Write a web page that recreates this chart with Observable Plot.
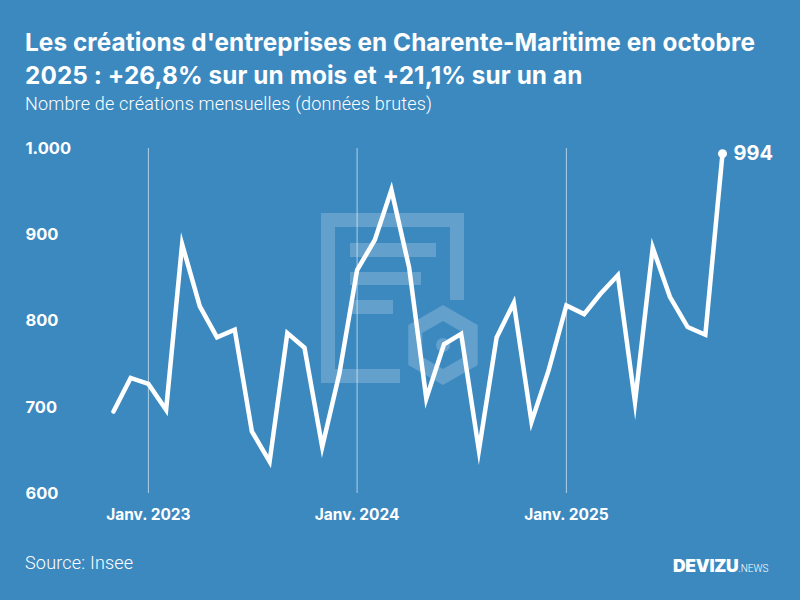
<!DOCTYPE html>
<html>
<head>
<meta charset="utf-8">
<script src="https://cdn.jsdelivr.net/npm/d3@7"></script>
<script src="https://cdn.jsdelivr.net/npm/@observablehq/plot@0.6"></script>
<style>
  html, body { margin: 0; padding: 0; }
  body { width: 800px; height: 600px; background: #3c89c0; overflow: hidden; font-family: Roboto, "Open Sans", sans-serif; }
  #wrap { position: relative; width: 800px; height: 600px; background: #3c89c0; }
  #title { position: absolute; left: 25px; top: 26px; width: 775px; white-space: nowrap; color: #fff; font-family: Inter, Roboto, sans-serif; font-weight: 700; font-size: 24.3px; line-height: 33px; letter-spacing: 0.1px; }
  #subtitle { position: absolute; left: 25px; top: 93px; color: #fff; font-weight: 300; font-size: 18px; letter-spacing: 0.2px; }
  #source { position: absolute; left: 25px; top: 552px; color: #fff; font-weight: 300; font-size: 18px; letter-spacing: 0.2px; }
  #logo { position: absolute; left: 673px; top: 555px; color: #fff; font-family: Inter, Roboto, sans-serif; font-weight: 900; font-size: 17.5px; letter-spacing: -0.3px; }
  #logo span { font-family: Roboto, sans-serif; font-weight: 300; font-size: 10px; letter-spacing: 0; }
  #wm { position: absolute; left: 0; top: 0; }
  #chart { position: absolute; left: 0; top: 130px; }
</style>
</head>
<body>
<div id="wrap">
  <svg id="wm" width="800" height="600">
    <g fill="#ffffff" fill-opacity="0.2" stroke="none">
      <path d="M321,213 H464 V300 H450 V227 H335 V369 H400 V383 H321 Z"/>
      <rect x="350" y="243" width="86" height="14"/>
      <rect x="350" y="272" width="71" height="13"/>
      <rect x="350" y="300" width="43" height="14"/>
    </g>
    <g transform="translate(443,345)">
      <polygon points="0,-32 27.7,-16 27.7,16 0,32 -27.7,16 -27.7,-16" fill="none" stroke="#ffffff" stroke-opacity="0.2" stroke-width="14"/>
      <circle cx="0" cy="0" r="7" fill="#ffffff" fill-opacity="0.2"/>
    </g>
  </svg>
  <div id="title">Les créations d'entreprises en Charente-Maritime en octobre<br>2025 : +26,8% sur un mois et +21,1% sur un an</div>
  <div id="subtitle">Nombre de créations mensuelles (données brutes)</div>
  <div id="chart"></div>
  <div id="source">Source: Insee</div>
  <div id="logo">DEVIZU<span>.NEWS</span></div>
</div>
<script>
const months = [
  "2022-11","2022-12",
  "2023-01","2023-02","2023-03","2023-04","2023-05","2023-06","2023-07","2023-08","2023-09","2023-10","2023-11","2023-12",
  "2024-01","2024-02","2024-03","2024-04","2024-05","2024-06","2024-07","2024-08","2024-09","2024-10","2024-11","2024-12",
  "2025-01","2025-02","2025-03","2025-04","2025-05","2025-06","2025-07","2025-08","2025-09","2025-10"
];
const creations = [
  695, 734,
  727, 697, 889, 817, 781, 790, 672, 637, 786, 769, 654, 739,
  859, 894, 952, 862, 710, 773, 785, 650, 781, 821, 683, 743,
  818, 808, 831, 853, 706, 885, 828, 793, 784, 994
];
const yTicks = [600, 700, 800, 900, 1000];
const xTicks = ["2023-01", "2024-01", "2025-01"];
const xTickLabels = ["Janv. 2023", "Janv. 2024", "Janv. 2025"];

const parse = d3.utcParse("%Y-%m");
const data = months.map((m, i) => ({date: parse(m), value: creations[i]}));
const last = data[data.length - 1];
const xTickData = xTicks.map((m, i) => ({date: parse(m), label: xTickLabels[i]}));
const fr = d3.formatLocale({decimal: ",", thousands: ".", grouping: [3], currency: ["", " €"]});
const fmt = fr.format(",");

const chart = Plot.plot({
  width: 800,
  height: 400,
  marginLeft: 113,
  marginRight: 78,
  marginTop: 18,
  marginBottom: 37,
  style: {background: "transparent", color: "#fff", fontFamily: "Inter, Roboto, sans-serif", overflow: "visible"},
  x: {type: "utc", domain: [parse("2022-11"), parse("2025-10")], axis: null},
  y: {domain: [600, 1000], axis: null},
  marks: [
    Plot.ruleX(xTickData, {x: "date", y1: 600, y2: 1000, stroke: "#ffffff", strokeOpacity: 0.6, strokeWidth: 1}),
    Plot.text(xTickData, {x: "date", frameAnchor: "bottom", dy: 26, text: "label", fill: "#fff", fontSize: 15.5, fontWeight: 700, style: "letter-spacing:1.4px"}),
    Plot.text(yTicks, {y: d => d, frameAnchor: "left", dx: -88, textAnchor: "start", text: d => fmt(d), fill: "#fff", fontSize: 16.5, fontWeight: 700, style: "letter-spacing:1.6px"}),
    Plot.line(data, {x: "date", y: "value", stroke: "#ffffff", strokeWidth: 4.5, strokeLinejoin: "miter", strokeMiterlimit: 10}),
    Plot.dot([last], {x: "date", y: "value", r: 4.5, fill: "#ffffff"}),
    Plot.text([last], {x: "date", y: "value", text: d => String(d.value), textAnchor: "start", dx: 11, fill: "#fff", fontSize: 20, fontWeight: 700, style: "letter-spacing:0.8px"})
  ]
});
document.getElementById("chart").appendChild(chart);
</script>
</body>
</html>
